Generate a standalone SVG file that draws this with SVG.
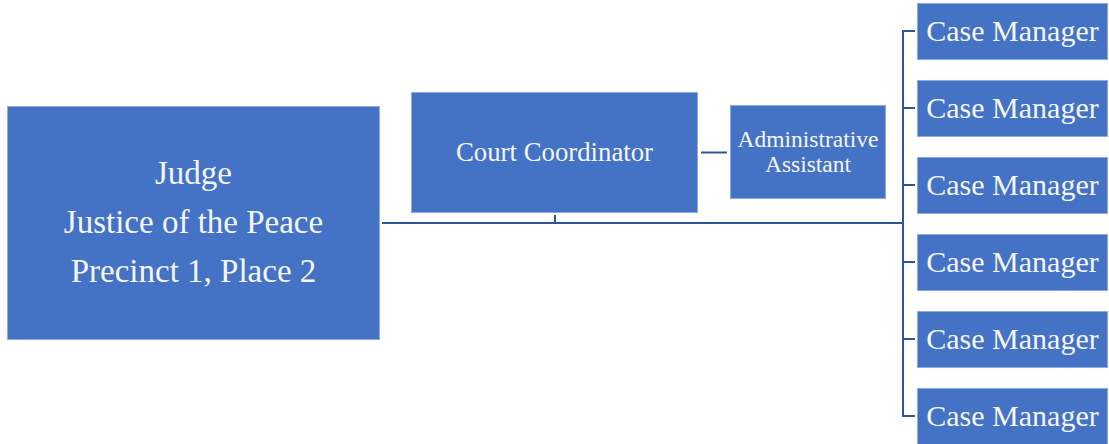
<svg xmlns="http://www.w3.org/2000/svg" width="1109" height="444" viewBox="0 0 1109 444">
  <style>
    .box { fill: #4472C4; stroke: #8FAADC; stroke-width: 1; }
    .lbl { fill: #F4F6FB; font-family: "Liberation Serif", "Times New Roman", serif; text-anchor: middle; }
    .wire { fill: none; stroke: #2F5597; stroke-width: 2; }
  </style>
  <rect width="1109" height="444" fill="#FFFFFF"/>

  <!-- connectors -->
  <g id="connectors">
    <path class="wire" d="M382 223 H903"/>
    <path class="wire" d="M555 215 V223"/>
    <path class="wire" d="M701 152.5 H727"/>
    <path class="wire" d="M915 31 H903 V416 H915"/>
    <path class="wire" d="M903 108 H915"/>
    <path class="wire" d="M903 185 H915"/>
    <path class="wire" d="M903 262 H915"/>
    <path class="wire" d="M903 339 H915"/>
  </g>

  <g id="judge">
    <rect class="box" x="7.5" y="106.5" width="372" height="233"/>
    <text class="lbl" font-size="33" x="193.5" y="184">Judge</text>
    <text class="lbl" font-size="33" x="193.5" y="233">Justice of the Peace</text>
    <text class="lbl" font-size="33" x="193.5" y="282">Precinct 1, Place 2</text>
  </g>

  <g id="court-coordinator">
    <rect class="box" x="411.5" y="92.5" width="286" height="120"/>
    <text class="lbl" font-size="28" x="554.5" y="161" textLength="197" lengthAdjust="spacingAndGlyphs">Court Coordinator</text>
  </g>

  <g id="administrative-assistant">
    <rect class="box" x="730.5" y="105.5" width="155" height="93"/>
    <text class="lbl" font-size="23.5" x="808" y="147">Administrative</text>
    <text class="lbl" font-size="23.5" x="808" y="172">Assistant</text>
  </g>

  <g id="case-manager-1">
    <rect class="box" x="917.5" y="3.5" width="190" height="56"/>
    <text class="lbl" font-size="30" x="1012.5" y="41">Case Manager</text>
  </g>
  <g id="case-manager-2">
    <rect class="box" x="917.5" y="80.5" width="190" height="56"/>
    <text class="lbl" font-size="30" x="1012.5" y="118">Case Manager</text>
  </g>
  <g id="case-manager-3">
    <rect class="box" x="917.5" y="157.5" width="190" height="56"/>
    <text class="lbl" font-size="30" x="1012.5" y="195">Case Manager</text>
  </g>
  <g id="case-manager-4">
    <rect class="box" x="917.5" y="234.5" width="190" height="56"/>
    <text class="lbl" font-size="30" x="1012.5" y="272">Case Manager</text>
  </g>
  <g id="case-manager-5">
    <rect class="box" x="917.5" y="311.5" width="190" height="56"/>
    <text class="lbl" font-size="30" x="1012.5" y="349">Case Manager</text>
  </g>
  <g id="case-manager-6">
    <rect class="box" x="917.5" y="388.5" width="190" height="56"/>
    <text class="lbl" font-size="30" x="1012.5" y="426">Case Manager</text>
  </g>
</svg>
